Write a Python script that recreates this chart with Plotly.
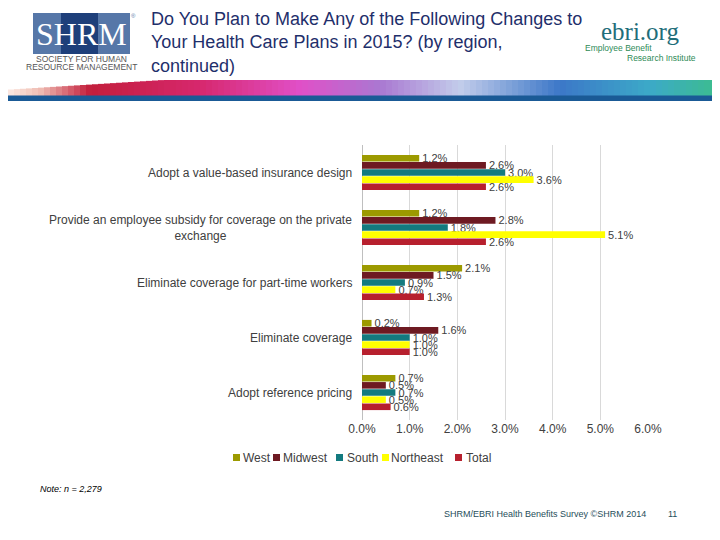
import plotly.graph_objects as go

categories = [
    "Adopt a value-based insurance design",
    "Provide an employee subsidy for coverage on the private exchange",
    "Eliminate coverage for part-time workers",
    "Eliminate coverage",
    "Adopt reference pricing",
]
cat_labels = [
    "Adopt a value-based insurance design",
    "Provide an employee subsidy for coverage on the private<br>exchange",
    "Eliminate coverage for part-time workers",
    "Eliminate coverage",
    "Adopt reference pricing",
]
west = [1.2, 1.2, 2.1, 0.2, 0.7]
midwest = [2.6, 2.8, 1.5, 1.6, 0.5]
south = [3.0, 1.8, 0.9, 1.0, 0.7]
northeast = [3.6, 5.1, 0.7, 1.0, 0.5]
total = [2.6, 2.6, 1.3, 1.0, 0.6]
x_ticks = [0, 1, 2, 3, 4, 5, 6]

series_names = ["West", "Midwest", "South", "Northeast", "Total"]
series_vals = [west, midwest, south, northeast, total]
series_cols = ["#9C9A00", "#6E1A22", "#137A7F", "#FFFF00", "#B7202E"]

FONT = "Liberation Sans, Arial, sans-serif"
SERIF = "Liberation Serif, Times New Roman, serif"
GRAY = "#404040"

# page offset (browser body margin)
OFF = 8
# plot area in page pixels
PL, PR, PT, PB = 362, 648, 145, 420
W, H = 720 - OFF, 540 - OFF

def px(x):
    return (x - PL) / (PR - PL)

def py(y):
    return 1 - (y - PT) / (PB - PT)

fig = go.Figure()
for name, vals, col in zip(series_names, series_vals, series_cols):
    fig.add_trace(go.Bar(
        y=categories, x=vals, name=name, orientation="h",
        marker=dict(color=col, line=dict(width=0)),
        text=[f"{v:.1f}%" for v in vals], textposition="outside",
        constraintext="none",
        textfont=dict(size=11, color=GRAY, family=FONT),
        cliponaxis=False, showlegend=False,
    ))

fig.update_layout(
    width=W, height=H,
    paper_bgcolor="white", plot_bgcolor="white",
    margin=dict(l=PL - OFF, r=720 - PR, t=PT - OFF, b=540 - PB, autoexpand=False),
    barmode="group", bargap=0.35, bargroupgap=0.08,
    font=dict(family=FONT, color=GRAY, size=11),
    showlegend=False,
)
fig.update_xaxes(range=[0, 6], tickvals=x_ticks,
                 ticktext=[f"{t:.1f}%" for t in x_ticks],
                 showgrid=True, gridcolor="#D9D9D9", gridwidth=1,
                 zeroline=True, zerolinecolor="#BFBFBF", zerolinewidth=1,
                 showline=False, ticks="", tickfont=dict(size=12, color=GRAY),
                 automargin=False, fixedrange=True)
fig.update_yaxes(categoryorder="array", categoryarray=categories,
                 autorange="reversed", showticklabels=False,
                 showgrid=False, zeroline=False, ticks="",
                 automargin=False, fixedrange=True)

for cat, lab in zip(categories, cat_labels):
    fig.add_annotation(xref="paper", yref="y", x=px(354), y=cat,
                       text=lab, showarrow=False, xanchor="right",
                       yanchor="middle", align="center",
                       font=dict(size=12, color=GRAY, family=FONT))

def pann(x, y, text, size, color, family=FONT, xanchor="left", italic=False,
         yanchor="middle", align="left"):
    fig.add_annotation(xref="paper", yref="paper", x=px(x), y=py(y),
                       text=text, showarrow=False, xanchor=xanchor, yanchor=yanchor,
                       align=align,
                       font=dict(size=size, color=color, family=family,
                                 style="italic" if italic else "normal"))

shapes = []
def rect(x0, y0, x1, y1, col):
    shapes.append(dict(type="rect", xref="paper", yref="paper",
                       x0=px(x0), x1=px(x1), y0=py(y0), y1=py(y1),
                       line=dict(width=0), fillcolor=col, layer="below"))

# SHRM logo
rect(33, 13, 130, 54, "#5677A8")
rect(61, 13, 98, 54, "#1E3F7A")

# Decorative swoosh band
stops = [(0, (255, 245, 238)), (40, (240, 190, 180)), (90, (195, 30, 60)),
         (200, (215, 40, 110)), (300, (225, 80, 200)), (380, (170, 120, 210)),
         (460, (195, 205, 235)), (560, (60, 120, 200)), (650, (60, 170, 200)),
         (720, (60, 190, 140))]
def col_at(x):
    for (xa, ca), (xb, cb) in zip(stops[:-1], stops[1:]):
        if xa <= x <= xb:
            t = (x - xa) / (xb - xa)
            c = [int(ca[i] + (cb[i] - ca[i]) * t) for i in range(3)]
            return "rgb(%d,%d,%d)" % tuple(c)
    return "rgb(60,190,140)"
step = 6
for x in range(OFF, 720, step):
    top = 80 if x > 160 else 80 + (160 - x) / 160 * 10
    rect(x, top, x + step + 0.5, 96, col_at(x + step / 2))
rect(OFF, 95.5, 720, 101, "#1A5A96")

# Legend (drawn)
leg_sq = [233, 273, 336, 382, 455]
leg_tx = [241, 281, 345, 389, 464]
for name, col, sx, tx in zip(series_names, series_cols, leg_sq, leg_tx):
    shapes.append(dict(type="rect", xref="paper", yref="paper",
                       x0=px(sx), x1=px(sx + 7), y0=py(461), y1=py(454),
                       line=dict(width=0), fillcolor=col))
    pann(tx, 457.5, name, 12, GRAY)

fig.update_layout(shapes=shapes)

# Header
pann(149, 7, "Do You Plan to Make Any of the Following Changes to<br>Your Health Care Plans in 2015? (by region,<br>continued)",
     18, "#1F2F6B", FONT, "left", yanchor="top")
pann(81, 34, "SHRM", 32, "white", SERIF, "center")
pann(133, 16, "®", 6, "#5677A8", FONT, "center")
pann(81, 59, "SOCIETY FOR HUMAN", 8.5, "#555555", FONT, "center")
pann(81, 67, "RESOURCE MANAGEMENT", 8.5, "#555555", FONT, "center")
pann(640, 31, "ebri.org", 25, "#1F6E7A", SERIF, "center")
pann(583, 48, "Employee Benefit", 8.5, "#2E8B57", FONT, "left")
pann(698, 58, "Research Institute", 8.5, "#2E8B57", FONT, "right")

# Footer
pann(38, 489, "Note: n = 2,279", 9, "#000000", FONT, "left", italic=True)
pann(648, 514, "SHRM/EBRI Health Benefits Survey ©SHRM 2014", 9, "#1F4E5A", FONT, "right")
pann(672, 514, "11", 9, "#1F4E5A", FONT, "center")

fig.write_html("out.html")
